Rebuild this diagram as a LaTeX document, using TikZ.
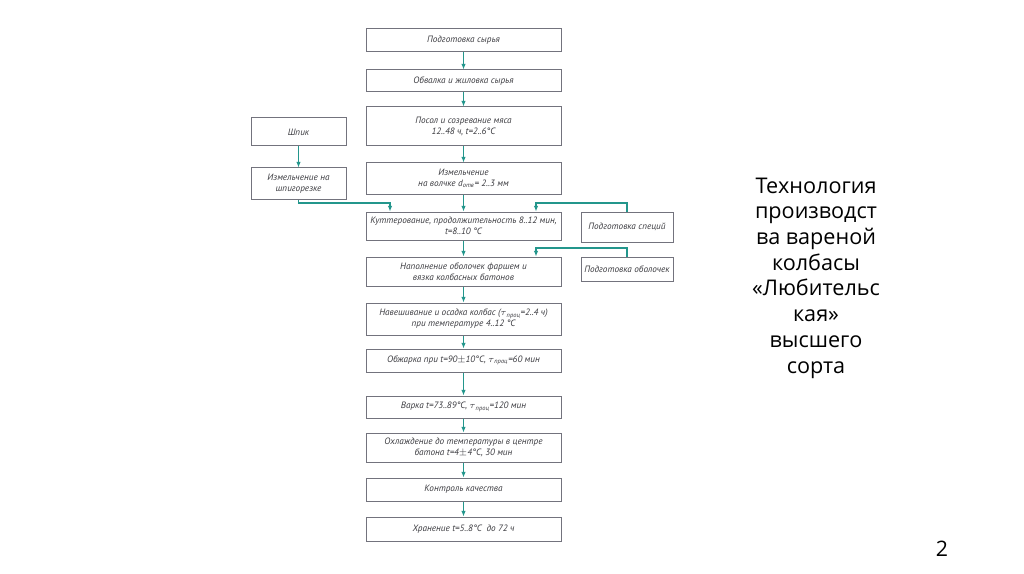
\documentclass[tikz,border=0pt]{standalone}
\usepackage{fontspec}
\setmainfont{Open Sans}
\newfontfamily\gost{PT Sans}
\usetikzlibrary{arrows.meta}
\definecolor{teal1}{RGB}{35,150,140}
\definecolor{boxgray}{RGB}{115,115,125}
\definecolor{txtgray}{RGB}{60,60,65}
\tikzset{
  box/.style={draw=boxgray, line width=0.75pt, inner sep=0pt, align=center,
    font=\gost\itshape\fontsize{6.9}{8.4}\selectfont, text=txtgray},
  mainbox/.style={box, minimum width=146.25pt},
  flow/.style={draw=teal1, line width=1.05pt, -{Latex[length=4.2pt,width=3.4pt]}},
}
\begin{document}
\begin{tikzpicture}[x=0.75pt,y=-0.75pt]
\useasboundingbox[fill=white] (0,0) rectangle (1024,574);
% main column
\node[mainbox, minimum height=17.25pt] (b1) at (463.5,40.5) {Подготовка сырья};
\node[mainbox, minimum height=16.5pt] (b2) at (463.5,81) {Обвалка и жиловка сырья};
\node[mainbox, minimum height=29.25pt] (b3) at (463.5,126.5) {Посол и созревание мяса\\12..48 ч, t=2..6°C};
\node[mainbox, minimum height=23.25pt] (b4) at (463.5,178.5) {Измельчение\\на волчке d\textsubscript{отв}= 2..3 мм};
\node[mainbox, minimum height=21pt] (b5) at (463.5,226) {Куттерование, продолжительность 8..12 мин,\\t=8..10 °C};
\node[mainbox, minimum height=21.75pt] (b6) at (463.5,271.5) {Наполнение оболочек фаршем и\\вязка колбасных батонов};
\node[mainbox, minimum height=24pt] (b7) at (463.5,319) {Навешивание и осадка колбас ($\tau$\textsubscript{проц}=2..4 ч)\\при температуре 4..12 °C};
\node[mainbox, minimum height=17.25pt] (b8) at (463.5,360.5) {Обжарка при t=90$\pm$10°C, $\tau$\textsubscript{проц}=60 мин};
\node[mainbox, minimum height=16.5pt] (b9) at (463.5,407) {Варка t=73..89°C, $\tau$\textsubscript{проц}=120 мин};
\node[mainbox, minimum height=21.75pt] (b10) at (463.5,447.5) {Охлаждение до температуры в центре\\батона t=4$\pm$4°C, 30 мин};
\node[mainbox, minimum height=17.25pt] (b11) at (463.5,489.5) {Контроль качества};
\node[mainbox, minimum height=18pt] (b12) at (463.5,529) {Хранение t=5..8°C\enspace до 72 ч};
% side boxes
\node[box, minimum width=71.25pt, minimum height=21pt] (shpik) at (298.5,132) {Шпик};
\node[box, minimum width=71.25pt, minimum height=23.25pt] (shpig) at (298.5,183.5) {Измельчение на\\шпигорезке};
\node[box, minimum width=69pt, minimum height=22.5pt] (spec) at (627,227) {Подготовка специй};
\node[box, minimum width=69pt, minimum height=18pt] (obol) at (627,269) {Подготовка оболочек};
% connectors
\foreach \a/\b in {b1/b2,b2/b3,b3/b4,b4/b5,b5/b6,b6/b7,b7/b8,b8/b9,b9/b10,b10/b11,b11/b12}
  \draw[flow] (\a.south) -- (\b.north);
\draw[flow] (shpik.south) -- (shpig.north);
\coordinate (j1) at (390,203);
\coordinate (j2) at (536,203);
\coordinate (j3) at (536,248);
\draw[flow] (shpig.south) |- (j1) -- (j1 |- b5.north);
\draw[flow] (spec.north) |- (j2) -- (j2 |- b5.north);
\draw[flow] (obol.north) |- (j3) -- (j3 |- b6.north);
% title
\node[align=center, font=\fontsize{16.2}{19.3}\selectfont, text=black] (title) at (816,278)
  {Технология\\производст\\ва вареной\\колбасы\\«Любительс\\кая»\\высшего\\сорта};
\node[font=\fontsize{16}{18}\selectfont] (pnum) at (942,549) {2};
\end{tikzpicture}
\end{document}
